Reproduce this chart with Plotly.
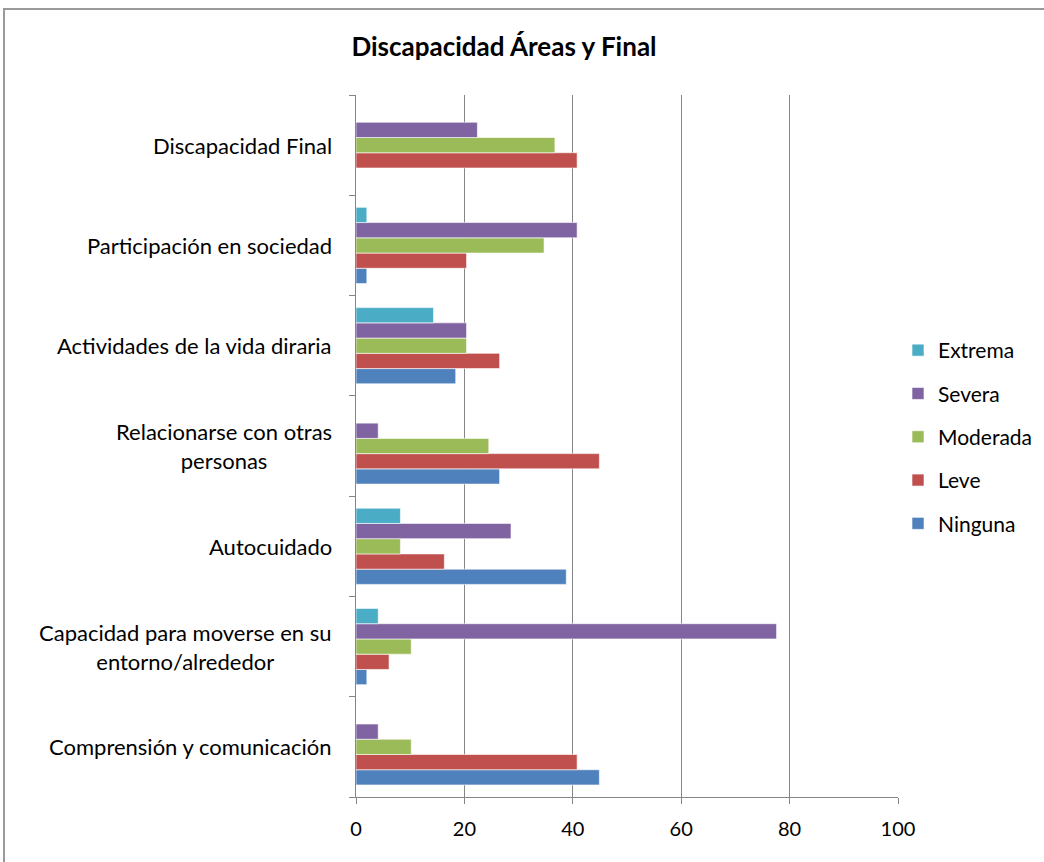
import plotly.graph_objects as go

categories = [
    "Comprensión y comunicación",
    "Capacidad para moverse en su<br>entorno/alrededor",
    "Autocuidado",
    "Relacionarse con otras<br>personas",
    "Actividades de la vida diraria",
    "Participación en sociedad",
    "Discapacidad Final",
]

series_names = ["Ninguna", "Leve", "Moderada", "Severa", "Extrema"]
ninguna = [44.9, 2.0, 38.8, 26.5, 18.4, 2.0, 0]
leve = [40.8, 6.1, 16.3, 44.9, 26.5, 20.4, 40.8]
moderada = [10.2, 10.2, 8.2, 24.5, 20.4, 34.7, 36.7]
severa = [4.1, 77.6, 28.6, 4.1, 20.4, 40.8, 22.4]
extrema = [0, 4.1, 8.2, 0, 14.3, 2.0, 0]

colors = ["#4F81BD", "#C0504D", "#9BBB59", "#8064A2", "#4BACC6"]
x_ticks = [0, 20, 40, 60, 80, 100]

FONT = "Lato"
W, H = 1044, 862
L, R, T, B = 356, 146, 95, 65
PW, PH = W - L - R, H - T - B

fig = go.Figure()
all_vals = [ninguna, leve, moderada, severa, extrema]
for i, (name, vals, col) in enumerate(zip(series_names, all_vals, colors)):
    fig.add_trace(go.Bar(
        y=categories, x=vals, name=name, orientation="h", legendgroup=name,
        legendrank=len(series_names) - i,
        marker=dict(color=col, line=dict(color="rgba(255,255,255,0.6)", width=1)),
    ))

fig.update_layout(
    width=W, height=H,
    margin=dict(l=L, r=R, t=T, b=B, autoexpand=False),
    paper_bgcolor="white", plot_bgcolor="white",
    barmode="group", bargap=0.24, bargroupgap=0,
    font=dict(family=FONT, size=20, color="black"),
    title=dict(text="<b>Discapacidad Áreas y Final</b>", x=504 / W, xanchor="center",
               y=1 - 47 / H, yanchor="middle", font=dict(family=FONT, size=26, color="black")),
    legend=dict(traceorder="grouped", x=1 + 0 / PW, xanchor="left", y=(797 - 437) / PH,
                yanchor="middle", font=dict(family=FONT, size=21), itemwidth=30, tracegroupgap=13,
                bgcolor="rgba(0,0,0,0)"),
    showlegend=True,
)
fig.update_xaxes(
    range=[0, 100], tickvals=x_ticks, showgrid=True, gridcolor="#868686", gridwidth=1,
    showline=True, linecolor="#868686", linewidth=1, ticks="outside", ticklen=6, tickcolor="#868686",
    zeroline=False, tickfont=dict(family=FONT, size=20, color="black"), ticklabelstandoff=8,
)
fig.update_yaxes(
    categoryorder="array", categoryarray=categories,
    showline=True, linecolor="#868686", linewidth=1, ticks="outside", ticklen=6, tickcolor="#868686",
    tickson="boundaries", showgrid=False, showticklabels=False,
)
for cat in categories:
    fig.add_annotation(text=cat, x=0, xref="paper", y=cat, yref="y", xanchor="right",
                       xshift=-22, align="center", showarrow=False,
                       font=dict(family=FONT, size=22, color="black"))
fig.add_shape(type="rect", xref="paper", yref="paper",
              x0=-(L - 4) / PW, x1=1 + (R + 20) / PW, y0=-(B + 40) / PH, y1=1 + (T - 9) / PH,
              line=dict(color="#9a9a9a", width=2), fillcolor="rgba(0,0,0,0)", layer="below")

fig.write_html("out.html")
